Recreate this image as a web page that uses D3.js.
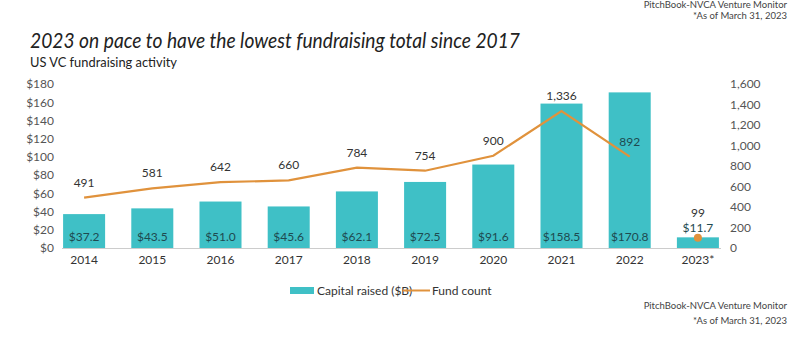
<!DOCTYPE html>
<html><head><meta charset="utf-8">
<script src="https://cdn.jsdelivr.net/npm/d3@7"></script>
<style>body{margin:0;background:#fff;} text{font-family:Lato,"Open Sans",sans-serif;}</style>
</head><body>
<svg id="c" width="800" height="350"></svg>
<script>
const years = ["2014","2015","2016","2017","2018","2019","2020","2021","2022","2023*"];
const capital = [37.2,43.5,51.0,45.6,62.1,72.5,91.6,158.5,170.8,11.7];
const fundCount = [491,581,642,660,784,754,900,1336,892,99];
const leftTicks = [0,20,40,60,80,100,120,140,160,180];
const rightTicks = [0,200,400,600,800,1000,1200,1400,1600];

const svg = d3.select("#c");
const teal = "#3fc0c6", orange = "#e0923c", dark = "#1e4a50", grey = "#555";
const fontF = "Lato, 'Open Sans', sans-serif";

const x = d3.scaleBand().domain(years).range([50, 732]).paddingInner(0.384).paddingOuter(0.192);
const yL = d3.scaleLinear().domain([0,180]).range([248,84]);
const yRC = d3.scaleLinear().domain([0,1600]).range([248,84]);

// titles
svg.append("text").attr("x",30).attr("y",48).attr("font-size",21).attr("font-style","italic")
  .attr("fill","#222").attr("textLength",490).attr("lengthAdjust","spacingAndGlyphs")
  .text("2023 on pace to have the lowest fundraising total since 2017");
svg.append("text").attr("x",30).attr("y",67).attr("font-size",13).attr("fill","#222")
  .attr("textLength",147).attr("lengthAdjust","spacingAndGlyphs")
  .text("US VC fundraising activity");

// source notes
[[ 8,"PitchBook-NVCA Venture Monitor"],[19,"*As of March 31, 2023"],[309,"PitchBook-NVCA Venture Monitor"],[324,"*As of March 31, 2023"]]
 .forEach(([yy,t])=>svg.append("text").attr("x",787).attr("y",yy).attr("text-anchor","end")
   .attr("font-size",9.5).attr("fill","#444").text(t));

// left axis
const gl = svg.append("g").attr("transform","translate(54,0)")
  .call(d3.axisLeft(yL).tickValues(leftTicks).tickSize(0).tickPadding(0).tickFormat(d=>"$"+d));
gl.select(".domain").remove();
gl.selectAll("text").attr("font-size",12).attr("fill",grey).style("font-family",fontF);

// right axis
const gr = svg.append("g").attr("transform","translate(730,0)")
  .call(d3.axisRight(yRC).tickValues(rightTicks).tickSize(0).tickPadding(0).tickFormat(d3.format(",")));
gr.select(".domain").remove();
gr.selectAll("text").attr("font-size",12).attr("fill",grey).style("font-family",fontF);

// bars
svg.selectAll("rect.bar").data(years).join("rect").attr("class","bar")
  .attr("x",d=>x(d)).attr("width",x.bandwidth())
  .attr("y",(d,i)=>yL(capital[i])).attr("height",(d,i)=>yL(0)-yL(capital[i]))
  .attr("fill",teal);

// baseline
svg.append("line").attr("x1",62).attr("x2",721).attr("y1",248.5).attr("y2",248.5)
  .attr("stroke","#ccc").attr("stroke-width",1);

// x axis
const gx = svg.append("g").attr("transform","translate(0,255)")
  .call(d3.axisBottom(x).tickSize(0).tickPadding(0));
gx.select(".domain").remove();
gx.selectAll("text").attr("font-size",12).attr("fill","#333").attr("dy","0.71em").style("font-family",fontF);

// bar labels
svg.selectAll("text.bl").data(years.slice(0,9)).join("text").attr("class","bl")
  .attr("x",d=>x(d)+x.bandwidth()/2).attr("y",241).attr("text-anchor","middle")
  .attr("font-size",12).attr("fill",dark).text((d,i)=>"$"+capital[i].toFixed(1));

// line (2014-2022)
const lineYears = years.slice(0,9);
const line = d3.line().x(d=>x(d)+x.bandwidth()/2).y((d,i)=>yRC(fundCount[i]));
svg.append("path").datum(lineYears).attr("d",line).attr("fill","none")
  .attr("stroke",orange).attr("stroke-width",2.2);

// line labels
svg.selectAll("text.ll").data(lineYears).join("text").attr("class","ll")
  .attr("x",d=>x(d)+x.bandwidth()/2)
  .attr("y",(d,i)=> yRC(fundCount[i])-11)
  .attr("text-anchor","middle").attr("font-size",12)
  .attr("fill",(d,i)=> i===8 ? dark : "#333")
  .text((d,i)=>d3.format(",")(fundCount[i]));

// 2023 point
const last = years[9];
const cx = x(last)+x.bandwidth()/2;
svg.append("circle").attr("cx",cx).attr("cy",yRC(fundCount[9])).attr("r",4).attr("fill",orange);
svg.append("text").attr("x",cx).attr("y",217).attr("text-anchor","middle").attr("font-size",12)
  .attr("fill","#333").text(d3.format(",")(fundCount[9]));
svg.append("text").attr("x",cx).attr("y",232).attr("text-anchor","middle").attr("font-size",12)
  .attr("fill",dark).text("$"+capital[9].toFixed(1));

// legend
svg.append("rect").attr("x",290).attr("y",287).attr("width",24).attr("height",7).attr("fill",teal);
svg.append("text").attr("x",317).attr("y",295).attr("font-size",12).attr("fill","#333").text("Capital raised ($B)");
svg.append("line").attr("x1",403).attr("x2",430).attr("y1",290.5).attr("y2",290.5).attr("stroke",orange).attr("stroke-width",2);
svg.append("text").attr("x",432).attr("y",295).attr("font-size",12).attr("fill","#333").text("Fund count");
</script>
</body></html>
